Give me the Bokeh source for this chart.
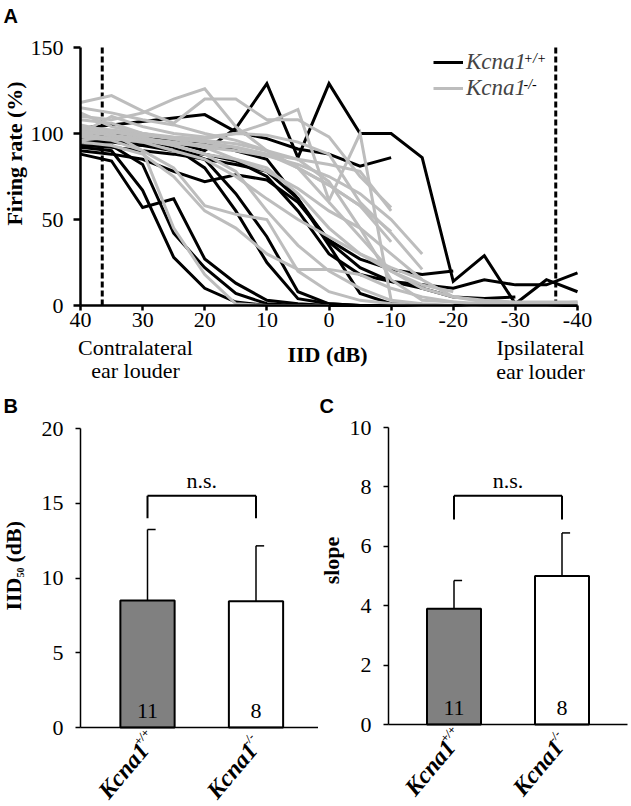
import math
from bokeh.plotting import figure
from bokeh.models import Range1d, Label, Legend, LegendItem, FixedTicker
from bokeh.layouts import column, row
from bokeh.embed import file_html
from bokeh.resources import INLINE

# ---------------- data ----------------
IID = [40, 35, 30, 25, 20, 15, 10, 5, 0, -5, -10, -15, -20, -25, -30, -35, -40]
IID_TICKS = [40, 30, 20, 10, 0, -10, -20, -30, -40]
RATE_TICKS = [0, 50, 100, 150]
DASHED_IID = [36.5, -36.5]

wt_curves = [
    [97, 96, 93, 95, 90, 103, 129, 86, 129, 100, 100, 86, 14, 29, 1, 15, 8],
    [103, 105, 107, 109, 111, 101, 97, 91, 88, 81, 86],
    [88, 84, 57, 62, 27, 13, 3, 1, 0, 0, 0],
    [92, 90, 67, 28, 10, 2, 0, 0, 0, 0, 0],
    [95, 93, 82, 42, 22, 7, 1, 0, 0, 0, 0],
    [100, 98, 96, 92, 80, 55, 25, 4, 1, 0, 0, 0, 0],
    [98, 97, 95, 93, 85, 65, 40, 8, 1, 0, 0, 0, 0],
    [100, 99, 98, 96, 95, 90, 85, 62, 35, 7, 1, 0, 0, 1, 0, 0, 0],
    [90, 88, 85, 78, 72, 76, 73, 60, 38, 27, 21, 18, 20],
    [93, 92, 90, 88, 85, 82, 78, 62, 37, 22, 14, 12, 10, 15, 12, 12, 19],
    [96, 95, 93, 90, 88, 84, 75, 55, 30, 18, 14, 10, 5, 4, 5],
]
ko_curves = [
    [110, 108, 112, 120, 126, 104, 90, 80, 70, 58, 43],
    [118, 122, 113, 106, 120, 120, 108, 108, 98, 75, 57],
    [104, 102, 100, 98, 97, 100, 106, 114, 61, 100, 3],
    [100, 110, 104, 100, 98, 100, 99, 95, 88, 60, 42, 21],
    [96, 98, 96, 94, 93, 92, 88, 80, 70, 58, 37],
    [100, 97, 95, 90, 85, 75, 62, 50, 40, 30, 20, 10, 5, 3, 2, 2, 2],
    [112, 104, 100, 97, 96, 94, 90, 85, 72, 45, 15, 3, 2, 1, 1, 1, 1],
    [105, 101, 98, 93, 88, 78, 55, 35, 20, 10, 3, 1, 0],
    [98, 96, 90, 80, 58, 53, 50, 20, 8, 3, 1, 0, 0],
    [102, 100, 90, 45, 18, 1, 0, 0, 0],
    [95, 93, 88, 75, 55, 45, 30, 21, 21, 18, 10, 5, 2, 0, 0, 0, 1],
    [108, 106, 100, 97, 92, 85, 78, 68, 55, 45, 30, 15, 5, 2, 1, 1, 2],
    [101, 99, 97, 95, 92, 90, 87, 82, 75, 65, 50, 30],
    [115, 112, 108, 105, 100, 96, 90, 80, 60, 40, 20, 12, 8],
    [99, 97, 96, 93, 88, 85, 80, 65, 45, 30, 22, 15],
    [103, 101, 99, 97, 95, 92, 88, 85, 82, 78, 55],
]

genotypes = ["Kcna1", "Kcna1"]
genotype_sup = ["+/+", "-/-"]
iid50_mean = [8.5, 8.45]
iid50_err = [4.75, 3.7]
slope_mean = [3.9, 5.0]
slope_err = [0.95, 1.45]
n_cells = ["11", "8"]
iid50_bracket = [15.5, 14.0]
slope_bracket = [7.7, 6.9]

SERIF = "Liberation Serif"
SANS = "Liberation Sans"
WT_COLOR = "black"
KO_COLOR = "#bdbdbd"
BASE_SHIFT = 0.35  # empirical: rendered baseline sits this many em below anchor


def make_fig(w, h, xr, yr):
    p = figure(width=w, height=h, x_range=Range1d(*xr), y_range=Range1d(*yr),
               output_backend="svg", toolbar_location=None,
               min_border_left=0, min_border_right=0, min_border_top=0,
               min_border_bottom=0)
    p.outline_line_color = None
    p.xgrid.visible = False
    p.ygrid.visible = False
    p.background_fill_color = "white"
    p.border_fill_color = "white"
    return p


def style_axes(p, lw, xfix, yfix, xbounds, ybounds):
    p.xaxis.fixed_location = xfix
    p.yaxis.fixed_location = yfix
    p.xaxis.bounds = xbounds
    p.yaxis.bounds = ybounds
    for ax in (p.xaxis, p.yaxis):
        ax.axis_line_width = lw
        ax.axis_line_color = "black"
        ax.major_tick_line_width = lw
        ax.major_tick_line_color = "black"
        ax.minor_tick_line_color = None
        ax.major_label_text_font = SERIF
        ax.major_label_text_font_size = "22px"
        ax.major_label_text_color = "black"


def lab_px(p, fx, fy, px, py, text, size=22, style="normal", font=SERIF,
           align="left", angle=0.0):
    """Place text whose baseline point (page pixels) is (px, py)."""
    nx, ny = -math.sin(angle), -math.cos(angle)
    ax = px + BASE_SHIFT * size * nx
    ay = py + BASE_SHIFT * size * ny
    p.add_layout(Label(x=fx(ax), y=fy(ay), text=text, text_font=font,
                       text_font_size=f"{size}px", text_font_style=style,
                       text_align=align, text_baseline="alphabetic",
                       angle=angle, text_color="black"))


# ---------------- panel A ----------------
def ax_(px):
    return 40 - (px - 80) / 6.2125


def ay_(py):
    return (305 - py) / 1.72


pA = make_fig(631, 393, (ax_(0), ax_(631)), (ay_(393), ay_(0)))
style_axes(pA, 2.5, 0, 40, (-40, 40), (0, 150))
pA.xaxis.ticker = FixedTicker(ticks=IID_TICKS)
pA.xaxis.major_label_overrides = {t: str(t) for t in IID_TICKS}
pA.yaxis.ticker = FixedTicker(ticks=RATE_TICKS)
pA.xaxis.major_tick_out = 5
pA.xaxis.major_tick_in = 0
pA.yaxis.major_tick_out = 7
pA.yaxis.major_tick_in = 0
pA.xaxis.major_label_standoff = 2
pA.yaxis.major_label_standoff = 10

pA.segment(x0=DASHED_IID, y0=[0, 0], x1=DASHED_IID, y1=[RATE_TICKS[-1]] * 2,
           line_color="black", line_width=3, line_dash="6 3")

r_wt = pA.multi_line([IID[:len(c)] for c in wt_curves], wt_curves,
                     line_color=WT_COLOR, line_width=3, line_join="miter")
r_ko = pA.multi_line([IID[:len(c)] for c in ko_curves], ko_curves,
                     line_color=KO_COLOR, line_width=3, line_join="miter")

leg = Legend(items=[LegendItem(label=genotypes[0], renderers=[r_wt]),
                    LegendItem(label=genotypes[1], renderers=[r_ko])],
             location=(433, 292), orientation="vertical",
             glyph_width=30, glyph_height=26, label_height=26, spacing=0,
             padding=0, margin=0, label_standoff=3,
             border_line_color=None, background_fill_alpha=0,
             label_text_font=SERIF, label_text_font_style="italic",
             label_text_font_size="23px")
pA.add_layout(leg)

lab_px(pA, ax_, ay_, 3, 22, "A", size=20, style="bold", font=SANS)
lab_px(pA, ax_, ay_, 22, 153, "Firing rate (%)", style="bold", align="center",
       angle=math.pi / 2)
lab_px(pA, ax_, ay_, 327, 362, "IID (dB)", style="bold", align="center")
lab_px(pA, ax_, ay_, 135, 355, "Contralateral", align="center")
lab_px(pA, ax_, ay_, 135, 378, "ear louder", align="center")
lab_px(pA, ax_, ay_, 540, 355, "Ipsilateral", align="center")
lab_px(pA, ax_, ay_, 540, 379, "ear louder", align="center")
lab_px(pA, ax_, ay_, 523, 63, genotype_sup[0], size=14, style="italic")
lab_px(pA, ax_, ay_, 523, 89, genotype_sup[1], size=14, style="italic")


# ---------------- panels B and C ----------------
LABEL_ANGLE = math.radians(50)


def bar_panel(width, page_x0, axis_x_px, center1_px, px_per_x, y0_px, px_per_unit,
              y_max, y_ticks, mean, err, bracket, axis_end_px):
    def dx(px):
        return 1 + (px - center1_px) / px_per_x

    def dy(py):
        return (y0_px - py) / px_per_unit

    p = make_fig(width, 413, (dx(page_x0), dx(page_x0 + width)), (dy(806), dy(393)))
    style_axes(p, 1.5, 0, dx(axis_x_px), (dx(axis_x_px), dx(axis_end_px)), (0, y_max))
    p.yaxis.ticker = FixedTicker(ticks=y_ticks)
    p.yaxis.major_tick_out = 5
    p.yaxis.major_tick_in = 0
    p.yaxis.major_label_standoff = 12
    p.xaxis.ticker = FixedTicker(ticks=[])
    p.xaxis.major_tick_out = 0
    p.xaxis.major_label_text_font_size = "0px"
    xs = [1, 2]
    p.vbar(x=xs, top=mean, width=0.5, bottom=0, fill_color=["#808080", "white"],
           line_color="black", line_width=2)
    tops = [m + e for m, e in zip(mean, err)]
    p.segment(x0=xs, y0=mean, x1=xs, y1=tops, line_color="black", line_width=1.5)
    p.segment(x0=xs, y0=tops, x1=[x + 0.075 for x in xs], y1=tops,
              line_color="black", line_width=1.5)
    p.segment(x0=[1, 1, 2], y0=[bracket[0], bracket[1], bracket[1]],
              x1=[2, 1, 2], y1=[bracket[0], bracket[0], bracket[0]],
              line_color="black", line_width=2)

    br_py = y0_px - bracket[0] * px_per_unit
    lab_px(p, dx, dy, center1_px + 0.5 * px_per_x, br_py - 8, "n.s.", align="center")
    ux, uy = math.cos(LABEL_ANGLE), -math.sin(LABEL_ANGLE)
    nx, ny = -math.sin(LABEL_ANGLE), -math.cos(LABEL_ANGLE)
    for i, x in enumerate(xs):
        cx = center1_px + (x - 1) * px_per_x
        lab_px(p, dx, dy, cx, y0_px - 9, n_cells[i], align="center")
        ex, ey = cx + 3, y0_px + 24
        lab_px(p, dx, dy, ex, ey, genotypes[i], size=24, style="bold italic",
               align="right", angle=LABEL_ANGLE)
        sx, sy = ex + 12 * nx - 3 * ux, ey + 12 * ny - 3 * uy
        lab_px(p, dx, dy, sx, sy, genotype_sup[i], size=12, style="bold italic",
               align="left", angle=LABEL_ANGLE)
    return p, dx, dy


pB, bdx, bdy = bar_panel(318, 0, 80, 147, 108.5, 727, 14.95, 20, [0, 5, 10, 15, 20],
                         iid50_mean, iid50_err, iid50_bracket, 318)
lab_px(pB, bdx, bdy, 3, 412, "B", size=20, style="bold", font=SANS)
lab_px(pB, bdx, bdy, 21, 610, "IID", style="bold", angle=math.pi / 2)
lab_px(pB, bdx, bdy, 23, 577, "50", size=10, style="bold", angle=math.pi / 2)
lab_px(pB, bdx, bdy, 21, 562, "(dB)", style="bold", angle=math.pi / 2)

pC, cdx, cdy = bar_panel(313, 318, 388, 453.5, 108, 724, 29.7, 10, [0, 2, 4, 6, 8, 10],
                         slope_mean, slope_err, slope_bracket, 627)
lab_px(pC, cdx, cdy, 319, 412, "C", size=20, style="bold", font=SANS)
lab_px(pC, cdx, cdy, 339, 560, "slope", style="bold", align="center", angle=math.pi / 2)

root = column(pA, row(pB, pC))

open("out.html", "w").write(file_html(root, INLINE))
